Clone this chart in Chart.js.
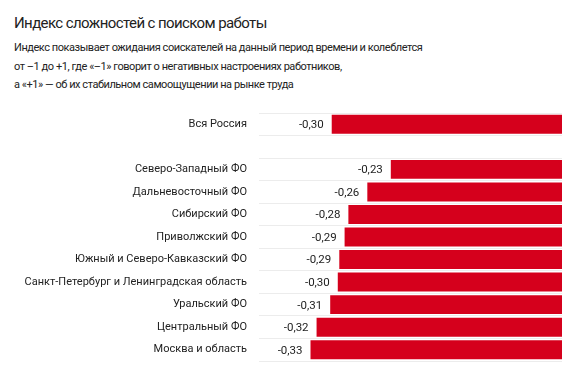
<!DOCTYPE html>
<html>
<head>
<meta charset="utf-8">
<script src="https://cdn.jsdelivr.net/npm/chart.js@4/dist/chart.umd.min.js"></script>
<style>
  html, body { margin: 0; padding: 0; background: #fff; }
  body { width: 567px; height: 378px; position: relative; overflow: hidden; font-family: Roboto, "Noto Sans", sans-serif; color: #222; }
  #title { position: absolute; left: 14px; top: 13px; font-size: 15px; line-height: 20px; white-space: nowrap; letter-spacing: -0.6px; }
  #sub { position: absolute; left: 14px; top: 39px; font-size: 11px; line-height: 18.6px; white-space: nowrap; letter-spacing: -0.45px; }
  #wrap { position: absolute; left: 0; top: 100px; width: 567px; height: 278px; }
  canvas { display: block; }
</style>
</head>
<body>
<div id="title">Индекс сложностей с поиском работы</div>
<div id="sub">Индекс показывает ожидания соискателей на данный период времени и колеблется<br>от –1 до +1, где «–1» говорит о негативных настроениях работников,<br>а «+1» — об их стабильном самоощущении на рынке труда</div>
<div id="wrap"><canvas id="c" width="567" height="278"></canvas></div>
<script>
const categories = [
  "Вся Россия",
  "",
  "Северо-Западный ФО",
  "Дальневосточный ФО",
  "Сибирский ФО",
  "Приволжский ФО",
  "Южный и Северо-Кавказский ФО",
  "Санкт-Петербург и Ленинградская область",
  "Уральский ФО",
  "Центральный ФО",
  "Москва и область"
];
const indexValues = [-0.304, null, -0.226, -0.257, -0.282, -0.287, -0.294, -0.296, -0.306, -0.324, -0.332];

const valueLabelPlugin = {
  id: 'valueLabels',
  afterDatasetsDraw(chart) {
    const ctx = chart.ctx;
    const meta = chart.getDatasetMeta(0);
    ctx.save();
    ctx.font = '11.5px Roboto, "Noto Sans", sans-serif';
    ctx.fillStyle = '#222';
    ctx.textAlign = 'right';
    ctx.textBaseline = 'middle';
    meta.data.forEach((bar, i) => {
      const v = indexValues[i];
      if (v === null || v === undefined) return;
      const txt = (Math.round(v * 100) / 100).toFixed(2).replace('.', ',');
      ctx.fillText(txt, bar.x - 8, bar.y + 1);
    });
    ctx.restore();
  }
};

new Chart(document.getElementById('c'), {
  type: 'bar',
  data: {
    labels: categories,
    datasets: [{
      data: indexValues,
      backgroundColor: '#D5001C',
      borderWidth: 0,
      barPercentage: 0.84,
      categoryPercentage: 1.0
    }]
  },
  options: {
    indexAxis: 'y',
    responsive: false,
    maintainAspectRatio: false,
    animation: false,
    devicePixelRatio: 1,
    layout: { padding: { top: 13, bottom: 17, left: 0, right: 5 } },
    plugins: { legend: { display: false }, tooltip: { enabled: false }, title: { display: false } },
    scales: {
      x: {
        display: false,
        min: -0.4,
        max: 0
      },
      y: {
        grid: { color: '#ececec', lineWidth: 1, drawTicks: false, offset: true },
        border: { display: false },
        ticks: {
          color: '#222',
          font: { family: 'Roboto, "Noto Sans", sans-serif', size: 11 },
          padding: 12
        },
        afterFit(scale) { scale.width = 259; scale.paddingTop = 0; scale.paddingBottom = 0; }
      }
    }
  },
  plugins: [valueLabelPlugin]
});
</script>
</body>
</html>
